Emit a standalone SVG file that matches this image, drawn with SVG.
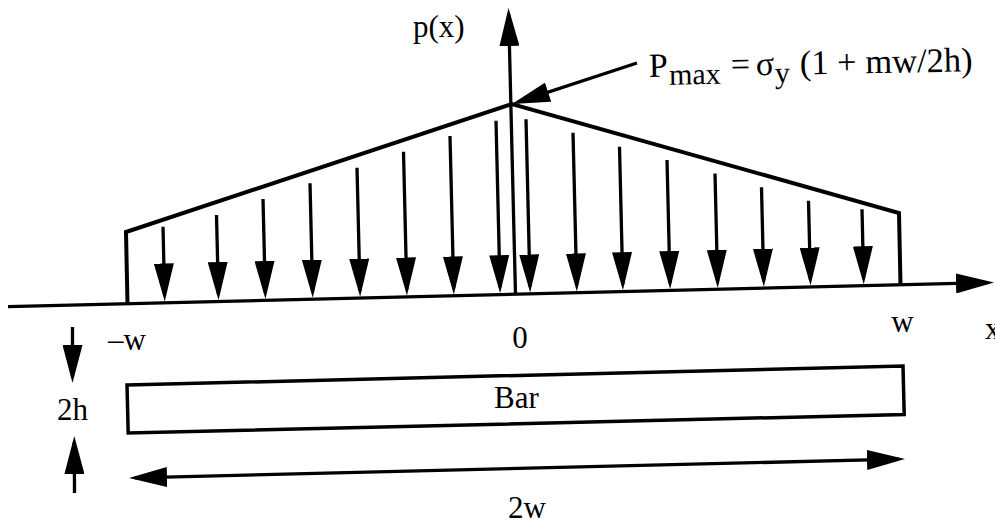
<svg xmlns="http://www.w3.org/2000/svg" width="995" height="524" viewBox="0 0 995 524">
<style>
  .ln{fill:none;stroke:#000;stroke-linecap:butt}
  .ax{stroke-width:3.3}
  .ld{stroke-width:3.3}
  .ol{stroke-width:4;stroke-linejoin:miter}
  .t{font-family:"Liberation Serif","Times New Roman",serif;fill:#000}
</style>
<defs>
  <marker id="ah" viewBox="0 0 38 20" refX="32" refY="10" markerWidth="38" markerHeight="20" markerUnits="userSpaceOnUse" orient="auto-start-reverse">
    <path d="M0,0 L38,10 L0,20 z" fill="#000"/>
  </marker>
</defs>
<rect width="995" height="524" fill="#fff"/>

<g id="load-outline">
  <polyline class="ln ol" points="127.5,304 126,232 512,104 899,213 900.5,285"/>
</g>

<g id="bar">
  <polygon class="ln" stroke-width="3.5" points="127,385 903,366 904.2,414.5 128.2,433"/>
  <text class="t" x="494" y="408" font-size="31">Bar</text>
</g>

<g id="labels">
  <text class="t" x="413" y="37" font-size="31">p(x)</text>
  <g id="formula" transform="rotate(-1 649 77)">
    <text class="t" x="649" y="77" font-size="34">P</text>
    <text class="t" x="669" y="85" font-size="30">max</text>
    <text class="t" x="731" y="77" font-size="34">=</text>
    <text class="t" x="756" y="77" font-size="34">σ</text>
    <text class="t" x="775" y="85" font-size="30">y</text>
    <text class="t" x="800" y="77" font-size="34.5">(1 + mw/2h)</text>
  </g>
  <text class="t" x="108" y="350" font-size="31">–w</text>
  <text class="t" x="520" y="348" font-size="31" text-anchor="middle">0</text>
  <text class="t" x="902.5" y="332" font-size="31" text-anchor="middle">w</text>
  <text class="t" x="985" y="339" font-size="31">x</text>
  <text class="t" x="57" y="420" font-size="31">2h</text>
  <text class="t" x="508" y="518" font-size="31">2w</text>
</g>

<g id="connectors">
  <!-- axes -->
  <path class="ln ax" d="M8,306.7 L988,282.65" marker-end="url(#ah)"/>
  <path class="ln ax" d="M515.5,295 L508.65,14" marker-end="url(#ah)"/>
  <!-- pointer to Pmax -->
  <path class="ln ax" d="M637,63 L517.7,102.1" marker-end="url(#ah)"/>
  <!-- 2w dimension -->
  <path class="ln ax" d="M135,477.85 L899,459.15" marker-start="url(#ah)" marker-end="url(#ah)"/>
  <!-- 2h dimension -->
  <path class="ln ax" d="M72.5,327 L72.5,377" marker-end="url(#ah)"/>
  <path class="ln ax" d="M74.5,493 L74.3,442" marker-end="url(#ah)"/>
  <!-- load arrows -->
  <path class="ln ld" d="M163,226.7 L164.6,295.4" marker-end="url(#ah)"/>
  <path class="ln ld" d="M216.5,215 L218.4,294.1" marker-end="url(#ah)"/>
  <path class="ln ld" d="M263,199 L265.3,293" marker-end="url(#ah)"/>
  <path class="ln ld" d="M310,183.3 L312.6,291.8" marker-end="url(#ah)"/>
  <path class="ln ld" d="M357,167.7 L360,290.7" marker-end="url(#ah)"/>
  <path class="ln ld" d="M403.5,151.7 L406.8,289.5" marker-end="url(#ah)"/>
  <path class="ln ld" d="M450,136 L453.7,288.4" marker-end="url(#ah)"/>
  <path class="ln ld" d="M496,120.7 L500,287.2" marker-end="url(#ah)"/>
  <path class="ln ld" d="M526,119.3 L530,286.5" marker-end="url(#ah)"/>
  <path class="ln ld" d="M573,132.7 L576.7,285.4" marker-end="url(#ah)"/>
  <path class="ln ld" d="M619.5,146.7 L622.8,284.2" marker-end="url(#ah)"/>
  <path class="ln ld" d="M667,160 L670,283.1" marker-end="url(#ah)"/>
  <path class="ln ld" d="M715,173.5 L717.6,281.9" marker-end="url(#ah)"/>
  <path class="ln ld" d="M761.5,187.3 L763.7,280.7" marker-end="url(#ah)"/>
  <path class="ln ld" d="M808.5,200.7 L810.4,279.6" marker-end="url(#ah)"/>
  <path class="ln ld" d="M862,209.3 L863.6,278.3" marker-end="url(#ah)"/>
</g>
</svg>
